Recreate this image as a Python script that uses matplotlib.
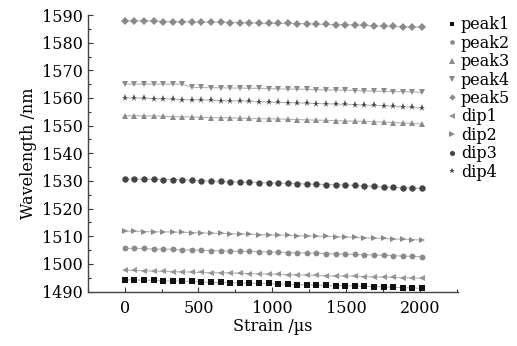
import matplotlib
matplotlib.use("Agg")
import matplotlib.pyplot as plt
from matplotlib.lines import Line2D
from matplotlib.ticker import MultipleLocator

plt.rcParams['font.family'] = ['DejaVu Serif']

strain = [0, 65, 130, 195, 260, 325, 390, 455, 520, 585, 650, 715, 780, 845, 910, 975,
          1040, 1105, 1170, 1235, 1300, 1365, 1430, 1495, 1560, 1625, 1690, 1755, 1820,
          1885, 1950, 2015]

peak1 = [1494.2, 1494.2, 1494.1, 1494.1, 1493.8, 1493.8, 1493.7, 1493.7, 1493.4, 1493.3,
         1493.3, 1493.2, 1493.1, 1493.0, 1492.9, 1492.9, 1492.7, 1492.6, 1492.5, 1492.4,
         1492.3, 1492.2, 1492.1, 1492.1, 1492.0, 1491.9, 1491.8, 1491.7, 1491.5, 1491.4,
         1491.3, 1491.1]
peak2 = [1505.6, 1505.6, 1505.6, 1505.3, 1505.3, 1505.3, 1505.0, 1505.0, 1504.9, 1504.8,
         1504.7, 1504.6, 1504.5, 1504.5, 1504.4, 1504.3, 1504.2, 1504.1, 1504.0, 1503.9,
         1503.9, 1503.7, 1503.6, 1503.5, 1503.4, 1503.3, 1503.2, 1503.1, 1503.0, 1502.8,
         1502.7, 1502.6]
peak3 = [1553.6, 1553.6, 1553.5, 1553.5, 1553.4, 1553.2, 1553.2, 1553.1, 1553.0, 1552.9,
         1552.9, 1552.8, 1552.7, 1552.6, 1552.5, 1552.5, 1552.4, 1552.3, 1552.2, 1552.1,
         1552.0, 1551.9, 1551.8, 1551.7, 1551.6, 1551.5, 1551.4, 1551.3, 1551.1, 1551.0,
         1550.8, 1550.6]
peak4 = [1565.0, 1565.0, 1565.0, 1565.0, 1565.0, 1565.0, 1565.0, 1563.8, 1563.8, 1563.7,
         1563.7, 1563.6, 1563.6, 1563.5, 1563.5, 1563.4, 1563.3, 1563.2, 1563.2, 1563.1,
         1563.0, 1562.9, 1562.9, 1562.8, 1562.7, 1562.6, 1562.5, 1562.4, 1562.3, 1562.3,
         1562.2, 1562.0]
peak5 = [1587.9, 1587.9, 1587.9, 1587.8, 1587.6, 1587.6, 1587.6, 1587.5, 1587.4, 1587.4,
         1587.4, 1587.3, 1587.3, 1587.2, 1587.1, 1587.0, 1587.0, 1587.0, 1586.9, 1586.9,
         1586.7, 1586.6, 1586.5, 1586.5, 1586.4, 1586.3, 1586.1, 1586.0, 1585.9, 1585.8,
         1585.7, 1585.6]
dip1 = [1497.7, 1497.6, 1497.5, 1497.4, 1497.3, 1497.2, 1497.1, 1497.0, 1496.9, 1496.8,
        1496.8, 1496.7, 1496.6, 1496.5, 1496.4, 1496.3, 1496.2, 1496.1, 1496.0, 1495.9,
        1495.8, 1495.7, 1495.6, 1495.6, 1495.5, 1495.4, 1495.3, 1495.2, 1495.1, 1495.0,
        1494.9, 1494.8]
dip2 = [1511.9, 1511.8, 1511.7, 1511.6, 1511.6, 1511.5, 1511.4, 1511.3, 1511.2, 1511.1,
        1511.0, 1510.9, 1510.8, 1510.7, 1510.6, 1510.5, 1510.4, 1510.3, 1510.2, 1510.1,
        1510.0, 1509.9, 1509.8, 1509.7, 1509.6, 1509.4, 1509.3, 1509.2, 1509.0, 1508.9,
        1508.8, 1508.6]
dip3 = [1530.7, 1530.7, 1530.6, 1530.6, 1530.5, 1530.5, 1530.4, 1530.2, 1530.0, 1529.9,
        1529.8, 1529.7, 1529.6, 1529.5, 1529.4, 1529.3, 1529.2, 1529.1, 1529.0, 1528.9,
        1528.8, 1528.7, 1528.6, 1528.5, 1528.4, 1528.2, 1528.0, 1527.8, 1527.7, 1527.5,
        1527.4, 1527.3]
dip4 = [1560.0, 1560.0, 1559.9, 1559.8, 1559.7, 1559.6, 1559.4, 1559.3, 1559.3, 1559.2,
        1559.0, 1558.9, 1558.9, 1558.8, 1558.6, 1558.5, 1558.4, 1558.3, 1558.2, 1558.1,
        1558.0, 1557.9, 1557.8, 1557.7, 1557.6, 1557.4, 1557.3, 1557.2, 1557.0, 1556.8,
        1556.6, 1556.3]

labels = ["peak1", "peak2", "peak3", "peak4", "peak5", "dip1", "dip2", "dip3", "dip4"]
series = [peak1, peak2, peak3, peak4, peak5, dip1, dip2, dip3, dip4]
markers = ['s', 'o', '^', 'v', 'D', '<', '>', 'o', '*']
colors = ['#111111', '#8a8a8a', '#8a8a8a', '#8a8a8a', '#8a8a8a', '#959595', '#8a8a8a',
          '#444444', '#444444']
msizes = [3.8, 4.2, 4.8, 4.8, 4.0, 4.8, 4.8, 4.6, 5.2]

fig = plt.figure(figsize=(5.17, 3.46), dpi=100)
ax = fig.add_axes([0.170, 0.1575, 0.716, 0.799])

for y, m, c, ms in zip(series, markers, colors, msizes):
    ax.plot(strain, y, color='#b5b5b5', lw=0.8, zorder=1)
    ax.plot(strain, y, ls='none', marker=m, color=c, ms=ms, mew=0, zorder=2)

ax.set_xlim(-250, 2260)
ax.set_ylim(1490, 1590)
ax.xaxis.set_major_locator(MultipleLocator(500))
ax.xaxis.set_minor_locator(MultipleLocator(250))
ax.yaxis.set_major_locator(MultipleLocator(10))
ax.yaxis.set_minor_locator(MultipleLocator(5))
ax.tick_params(which='both', direction='in', colors='#333333', labelcolor='black',
               labelsize=11.5, width=0.8)
ax.tick_params(which='major', length=3.5)
ax.tick_params(which='minor', length=2)
ax.tick_params(axis='x', pad=6)
for s in ['top', 'right']:
    ax.spines[s].set_visible(False)
for s in ['left', 'bottom']:
    ax.spines[s].set_color('#444444')
    ax.spines[s].set_linewidth(1.0)

ax.set_xlabel("Strain /µs", fontsize=11.5, labelpad=1)
ax.set_ylabel("Wavelength /nm", fontsize=11.5, labelpad=4)

handles = [Line2D([], [], ls='none', marker=m, color=c, ms=ms * 0.8, mew=0)
           for m, c, ms in zip(markers, colors, msizes)]
fig.legend(handles, labels, loc='upper left', bbox_to_anchor=(0.862, 0.953),
           frameon=False, fontsize=11.5, handlelength=0.8, handletextpad=0.15,
           labelspacing=0.09, borderpad=0, borderaxespad=0)

fig.savefig("out.png", dpi=100)
